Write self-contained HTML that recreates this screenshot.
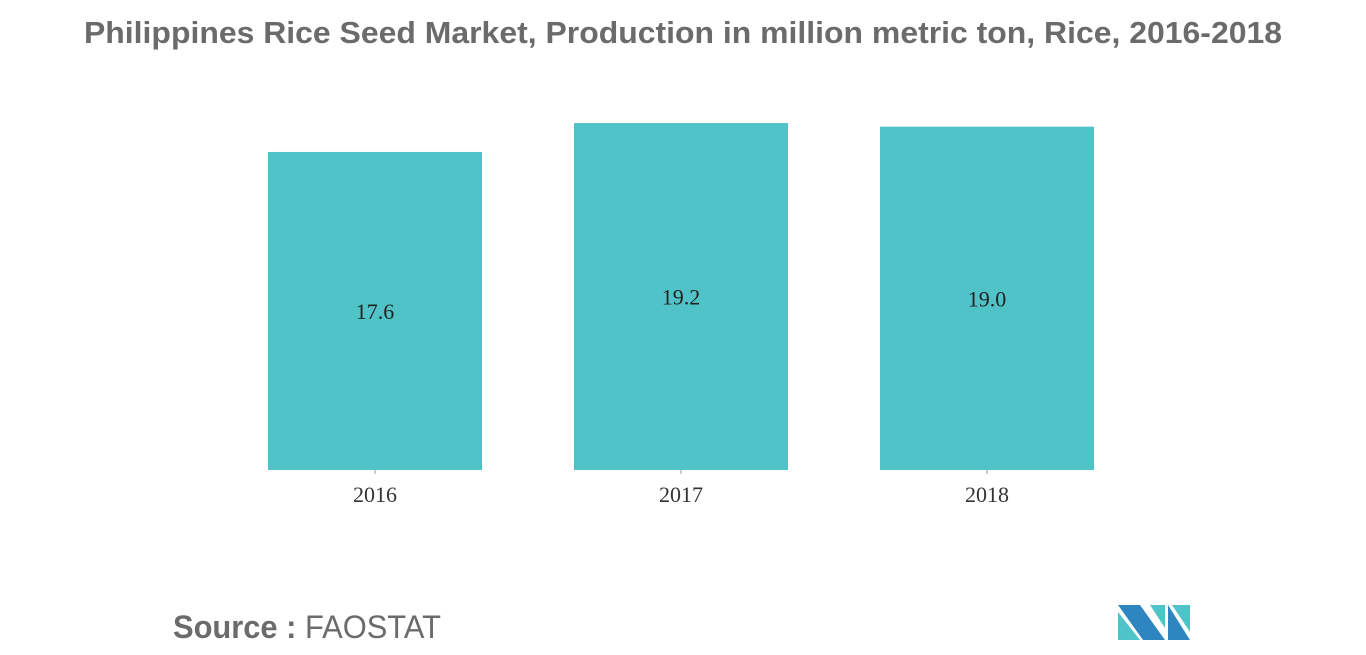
<!DOCTYPE html>
<html><head><meta charset="utf-8"><style>
html,body{margin:0;padding:0;background:#fff;width:1366px;height:655px;overflow:hidden}
svg{display:block}
</style></head><body>
<svg width="1366" height="655" xmlns="http://www.w3.org/2000/svg">
<text x="84" y="43" textLength="1198" lengthAdjust="spacingAndGlyphs" font-family="Liberation Sans, sans-serif" font-size="31" font-weight="bold" fill="#6b6b6b">Philippines Rice Seed Market, Production in million metric ton, Rice, 2016-2018</text>
<g id="bars"></g>
<text x="173" y="638" textLength="268" lengthAdjust="spacingAndGlyphs" font-family="Liberation Sans, sans-serif" font-size="32" fill="#6b6b6b"><tspan font-weight="bold">Source :</tspan> FAOSTAT</text>
<g>
<polygon points="1118,605 1140,605 1165,640 1143,640" fill="#2e86c1"/>
<polygon points="1118,612 1140,640 1118,640" fill="#4fc3c8"/>
<polygon points="1150,605 1165,605 1165,628" fill="#4fc3c8"/>
<polygon points="1168,605 1190,640 1168,640" fill="#2e86c1"/>
<polygon points="1172,605 1190,605 1190,632" fill="#4fc3c8"/>
</g>
</svg>
<script>
const categories=["2016","2017","2018"];
const values=[17.6,19.2,19.0];
const labels=["17.6","19.2","19.0"];
const ns="http://www.w3.org/2000/svg";
const g=document.getElementById("bars");
const base=470, scale=18.07, x0=268, step=306, bw=214;
function xPos(i){return x0+i*step;}
function yPos(v){return base-v*scale;}
categories.forEach((c,i)=>{
  const x=xPos(i), y=yPos(values[i]);
  const r=document.createElementNS(ns,"rect");
  
  
  r.setAttribute("x",x);r.setAttribute("y",y);r.setAttribute("width",bw);r.setAttribute("height",base-y);r.setAttribute("fill","#50c3c9");
  g.appendChild(r);
  const t=document.createElementNS(ns,"text");
  
  
  t.setAttribute("x",x+bw/2);t.setAttribute("y",(y+base)/2+8);t.setAttribute("text-anchor","middle");
  t.setAttribute("font-family","Liberation Serif, serif");t.setAttribute("font-size","22");t.setAttribute("fill","#222");
  t.textContent=labels[i];g.appendChild(t);
  const tk=document.createElementNS(ns,"line");
  
  
  tk.setAttribute("x1",x+bw/2);tk.setAttribute("x2",x+bw/2);tk.setAttribute("y1",base);tk.setAttribute("y2",base+4);tk.setAttribute("stroke","#999");
  g.appendChild(tk);
  const xl=document.createElementNS(ns,"text");
  
  
  xl.setAttribute("x",x+bw/2);xl.setAttribute("y",502);xl.setAttribute("text-anchor","middle");
  xl.setAttribute("font-family","Liberation Serif, serif");xl.setAttribute("font-size","22");xl.setAttribute("fill","#333");
  xl.textContent=c;g.appendChild(xl);
});
</script>
</body></html>
